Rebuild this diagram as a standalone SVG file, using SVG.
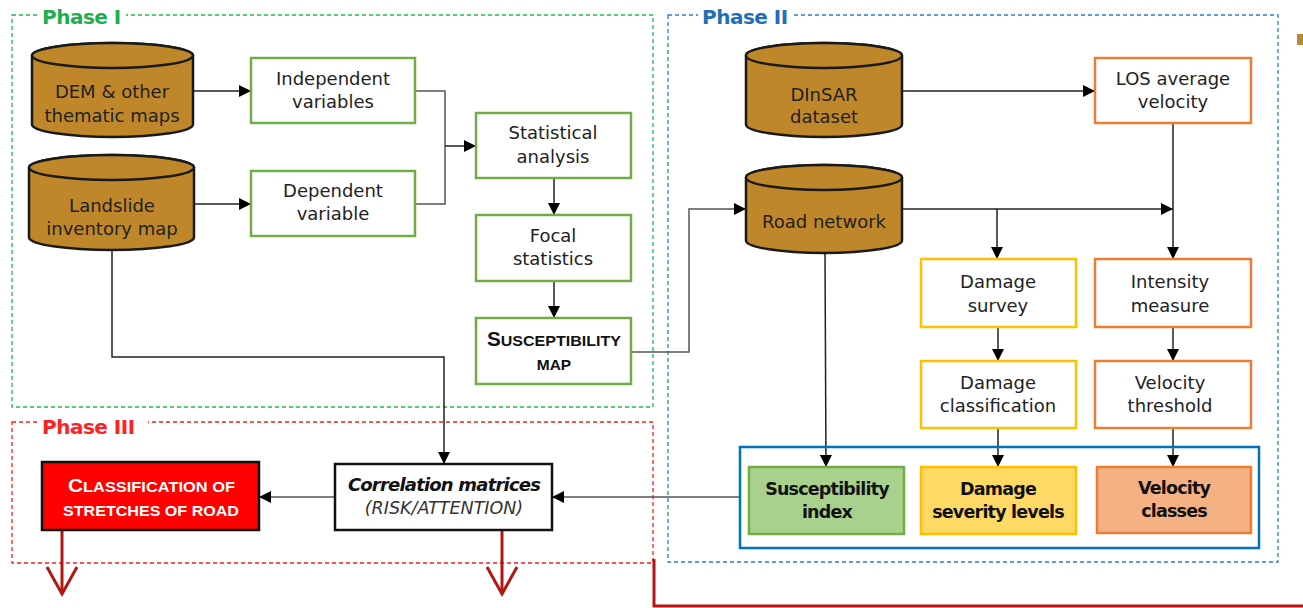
<svg xmlns="http://www.w3.org/2000/svg" width="1303" height="608" viewBox="0 0 1303 608">
<defs>
<marker id="ah" viewBox="0 0 12 12" refX="12" refY="6" markerWidth="12" markerHeight="12" markerUnits="userSpaceOnUse" orient="auto">
<path d="M0,0 L12,6 L0,12 Z" fill="#000"/>
</marker>
<style>
.phase{fill:none;stroke-width:1.3;stroke-dasharray:4 3}
.plabel{font-family:"DejaVu Sans",Verdana,sans-serif;font-weight:bold;font-size:20px;letter-spacing:-0.5px}
.cyl{fill:#c0862a;stroke:#1a1a1a;stroke-width:2.5}
.t{font-family:"DejaVu Sans",Verdana,sans-serif;font-size:18px;fill:#222;text-anchor:middle}
.tb{font-family:"DejaVu Sans",Verdana,sans-serif;font-size:17.5px;font-weight:bold;fill:#111;text-anchor:middle;letter-spacing:-0.8px}
.g{fill:#fff;stroke:#70ad47;stroke-width:2.5}
.y{fill:#fff;stroke:#ffc000;stroke-width:2.5}
.o{fill:#fff;stroke:#ed7d31;stroke-width:2.5}
.c{fill:none;stroke:#222;stroke-width:1.5}
.cg{fill:none;stroke:#555;stroke-width:1.5}
.red{fill:none;stroke:#b2170f;stroke-width:3}
.sc{font-family:"Liberation Sans",Arial,sans-serif;font-weight:bold}
</style>
</defs>

<g id="phase1">
<rect class="phase" x="12" y="15" width="641" height="392" stroke="#1db954"/>
<rect x="38" y="4" width="88" height="22" fill="#fff"/>
<text class="plabel" x="42" y="24" fill="#1fae4f">Phase I</text>
</g>
<g id="phase2">
<rect class="phase" x="668" y="15" width="610" height="547" stroke="#2e7dc2"/>
<rect x="698" y="4" width="96" height="22" fill="#fff"/>
<text class="plabel" x="702" y="24" fill="#1f6fb8">Phase II</text>
</g>
<g id="phase3">
<rect class="phase" x="12" y="422" width="641" height="141" stroke="#ff1a1a"/>
<rect x="38" y="412" width="110" height="22" fill="#fff"/>
<text class="plabel" x="42" y="434" fill="#ff2222">Phase III</text>
</g>

<g id="connectors">
<line class="c" x1="193" y1="91" x2="251" y2="91" marker-end="url(#ah)"/>
<line class="c" x1="194" y1="204" x2="251" y2="204" marker-end="url(#ah)"/>
<polyline class="cg" points="415,91 445,91 445,204 415,204"/>
<line class="c" x1="445" y1="146" x2="476" y2="146" marker-end="url(#ah)"/>
<line class="c" x1="554" y1="178" x2="554" y2="215" marker-end="url(#ah)"/>
<line class="c" x1="554" y1="281" x2="554" y2="318" marker-end="url(#ah)"/>
<polyline class="c" points="112,250 112,357 444,357 444,464" marker-end="url(#ah)"/>
<polyline class="cg" points="631,352 689,352 689,209 746,209" marker-end="url(#ah)"/>
<line class="c" x1="902" y1="91" x2="1095" y2="91" marker-end="url(#ah)"/>
<line class="c" x1="902" y1="209" x2="1173" y2="209" marker-end="url(#ah)"/>
<line class="c" x1="997" y1="209" x2="997" y2="259" marker-end="url(#ah)"/>
<line class="c" x1="1173" y1="123" x2="1173" y2="259" marker-end="url(#ah)"/>
<line class="c" x1="998" y1="327" x2="998" y2="361" marker-end="url(#ah)"/>
<line class="c" x1="1173" y1="327" x2="1173" y2="361" marker-end="url(#ah)"/>
<line class="c" x1="825" y1="253" x2="826" y2="467" marker-end="url(#ah)"/>
<line class="c" x1="998" y1="428" x2="998" y2="467" marker-end="url(#ah)"/>
<line class="c" x1="1173" y1="428" x2="1173" y2="467" marker-end="url(#ah)"/>
<line class="cg" x1="740" y1="497" x2="552" y2="497" marker-end="url(#ah)"/>
<line class="cg" x1="335" y1="497" x2="259" y2="497" marker-end="url(#ah)"/>
<polyline class="red" points="62,530 62,594"/>
<polyline class="red" points="47,567 62,594 77,567"/>
<polyline class="red" points="502,530 502,594"/>
<polyline class="red" points="487,567 502,594 517,567"/>
<polyline class="red" points="654,559 654,606 1303,606"/>
</g>

<g id="dem">
<path class="cyl" d="M32,55.5 L32,124.5 A80.5,12.5 0 0 0 193,124.5 L193,55.5 A80.5,12.5 0 0 0 32,55.5 Z"/>
<ellipse class="cyl" cx="112.5" cy="55.5" rx="80.5" ry="12.5"/>
<text class="t" x="112" y="98">DEM &amp; other</text>
<text class="t" x="112" y="122">thematic maps</text>
</g>
<g id="landslide">
<path class="cyl" d="M29,167.5 L29,237.5 A82.5,12.5 0 0 0 194,237.5 L194,167.5 A82.5,12.5 0 0 0 29,167.5 Z"/>
<ellipse class="cyl" cx="111.5" cy="167.5" rx="82.5" ry="12.5"/>
<text class="t" x="112" y="212">Landslide</text>
<text class="t" x="112" y="235">inventory map</text>
</g>
<g id="independent">
<rect class="g" x="251" y="58" width="164" height="65"/>
<text class="t" x="333" y="85">Independent</text>
<text class="t" x="333" y="108">variables</text>
</g>
<g id="dependent">
<rect class="g" x="251" y="171" width="164" height="65"/>
<text class="t" x="333" y="197">Dependent</text>
<text class="t" x="333" y="220">variable</text>
</g>
<g id="statistical">
<rect class="g" x="476" y="113" width="155" height="65"/>
<text class="t" x="553" y="139">Statistical</text>
<text class="t" x="553" y="163">analysis</text>
</g>
<g id="focal">
<rect class="g" x="476" y="215" width="155" height="66"/>
<text class="t" x="553" y="242">Focal</text>
<text class="t" x="553" y="265">statistics</text>
</g>
<g id="suscmap">
<rect class="g" x="476" y="318" width="155" height="66"/>
<text class="sc" x="487" y="346" fill="#111" textLength="134" lengthAdjust="spacingAndGlyphs"><tspan font-size="20">S</tspan><tspan font-size="15.5">USCEPTIBILITY</tspan></text>
<text class="sc" x="554" y="370" text-anchor="middle" font-size="15.5" fill="#111">MAP</text>
</g>

<g id="dinsar">
<path class="cyl" d="M746,55.5 L746,124.5 A78,12.5 0 0 0 902,124.5 L902,55.5 A78,12.5 0 0 0 746,55.5 Z"/>
<ellipse class="cyl" cx="824" cy="55.5" rx="78" ry="12.5"/>
<text class="t" x="824" y="101">DInSAR</text>
<text class="t" x="824" y="123">dataset</text>
</g>
<g id="road">
<path class="cyl" d="M746,177.5 L746,240.5 A78,12.5 0 0 0 902,240.5 L902,177.5 A78,12.5 0 0 0 746,177.5 Z"/>
<ellipse class="cyl" cx="824" cy="177.5" rx="78" ry="12.5"/>
<text class="t" x="824" y="228">Road network</text>
</g>
<g id="los">
<rect class="o" x="1095" y="58" width="156" height="65"/>
<text class="t" x="1173" y="85">LOS average</text>
<text class="t" x="1173" y="108">velocity</text>
</g>
<g id="damagesurvey">
<rect class="y" x="921" y="259" width="155" height="68"/>
<text class="t" x="998" y="288">Damage</text>
<text class="t" x="998" y="312">survey</text>
</g>
<g id="intensity">
<rect class="o" x="1095" y="259" width="156" height="68"/>
<text class="t" x="1170" y="288">Intensity</text>
<text class="t" x="1170" y="312">measure</text>
</g>
<g id="damageclass">
<rect class="y" x="921" y="361" width="155" height="67"/>
<text class="t" x="998" y="389">Damage</text>
<text class="t" x="998" y="412">classification</text>
</g>
<g id="velthreshold">
<rect class="o" x="1095" y="361" width="156" height="67"/>
<text class="t" x="1170" y="389">Velocity</text>
<text class="t" x="1170" y="412">threshold</text>
</g>
<g id="outputs">
<rect x="740" y="447" width="519" height="101" fill="none" stroke="#0070c0" stroke-width="2.5"/>
</g>
<g id="suscindex">
<rect x="749" y="467" width="155" height="67" fill="#a9d18e" stroke="#70ad47" stroke-width="2.5"/>
<text class="tb" x="827" y="495">Susceptibility</text>
<text class="tb" x="827" y="518">index</text>
</g>
<g id="damagesev">
<rect x="921" y="467" width="155" height="67" fill="#ffd966" stroke="#ffc000" stroke-width="2.5"/>
<text class="tb" x="998" y="495">Damage</text>
<text class="tb" x="998" y="518">severity levels</text>
</g>
<g id="velclasses">
<rect x="1097" y="467" width="154" height="66" fill="#f4b183" stroke="#ed7d31" stroke-width="2.5"/>
<text class="tb" x="1174" y="494">Velocity</text>
<text class="tb" x="1174" y="517">classes</text>
</g>

<g id="classification">
<rect x="42" y="462" width="217" height="68" fill="#ff0000" stroke="#111" stroke-width="2.5"/>
<text class="sc" x="68" y="492" fill="#fff" textLength="167" lengthAdjust="spacingAndGlyphs"><tspan font-size="19">C</tspan><tspan font-size="15">LASSIFICATION OF</tspan></text>
<text class="sc" x="63" y="516" font-size="15" fill="#fff" textLength="176" lengthAdjust="spacingAndGlyphs">STRETCHES OF ROAD</text>
</g>
<g id="correlation">
<rect x="335" y="464" width="217" height="66" fill="#fff" stroke="#111" stroke-width="2.5"/>
<text x="444" y="491" text-anchor="middle" font-family="'DejaVu Sans',Verdana,sans-serif" font-style="italic" font-weight="bold" font-size="18" fill="#111" letter-spacing="-0.8">Correlation matrices</text>
<text x="444" y="514" text-anchor="middle" font-family="'DejaVu Sans',Verdana,sans-serif" font-style="italic" font-size="17.5" fill="#333">(RISK/ATTENTION)</text>
</g>
<rect x="1297" y="34" width="6" height="11" fill="#b88a3a"/>
</svg>
